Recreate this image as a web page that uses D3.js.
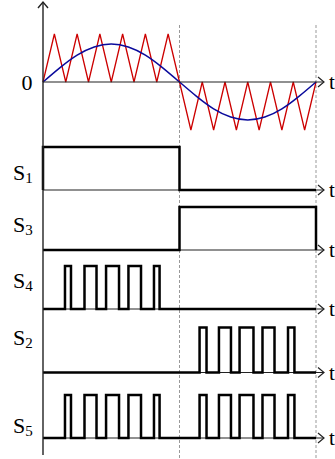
<!DOCTYPE html>
<html>
<head>
<meta charset="utf-8">
<script src="https://d3js.org/d3.v7.min.js"></script>
<style>
  body { margin: 0; background: #fff; }
  text { font-family: "Liberation Serif", "Times New Roman", serif; fill: #000; }
</style>
</head>
<body>
<script>
// modulating sine (fraction of carrier peak), sampled every 1/8 of a half cycle
var sineValues = [0, 0.30, 0.56, 0.73, 0.79, 0.73, 0.56, 0.30, 0,
                  -0.30, -0.56, -0.73, -0.79, -0.73, -0.56, -0.30, 0];
// carrier triangle vertices, every 1/12 of a half cycle
var carrierValues = [0, 1, 0, 1, 0, 1, 0, 1, 0, 1, 0, 1, 0,
                     -1, 0, -1, 0, -1, 0, -1, 0, -1, 0, -1, 0];

// switching states: [on, off] in half-cycle units (0..2)
var s1Pulses = [[0, 1]];
var s3Pulses = [[1, 2]];
var s4Pulses = [[0.161, 0.205], [0.304, 0.392], [0.462, 0.557], [0.626, 0.718], [0.813, 0.854]];
var s2Pulses = [[1.147, 1.198], [1.289, 1.377], [1.440, 1.542], [1.608, 1.696], [1.795, 1.842]];
var s5Pulses = s4Pulses.concat(s2Pulses);

var labels = ["1", "3", "4", "2", "5"];

var width = 335, height = 459;
var svg = d3.select("body").append("svg")
    .attr("width", width)
    .attr("height", height);

var x = d3.scaleLinear().domain([0, 2]).range([43, 316]);
var xEnd = 324;

// panels: low / high line and label baseline
var panels = [
    { id: "1", pulses: s1Pulses, low: 190, high: 147, labelY: 180 },
    { id: "3", pulses: s3Pulses, low: 250, high: 207, labelY: 232 },
    { id: "4", pulses: s4Pulses, low: 309, high: 266, labelY: 288 },
    { id: "2", pulses: s2Pulses, low: 372.5, high: 327.5, labelY: 345 },
    { id: "5", pulses: s5Pulses, low: 438, high: 395, labelY: 433 }
];

// dashed guides at the half cycle marks
svg.selectAll("line.guide")
    .data([1, 2])
    .enter().append("line")
    .attr("class", "guide")
    .attr("x1", function (d) { return x(d); })
    .attr("x2", function (d) { return x(d); })
    .attr("y1", 25)
    .attr("y2", height)
    .attr("stroke", "#999")
    .attr("stroke-width", 1)
    .attr("stroke-dasharray", "3,2");

// ---------- top panel: carrier and reference ----------
var yTop = d3.scaleLinear().domain([-1, 1]).range([130, 34]);
var zeroY = yTop(0);

var sineX = d3.scaleLinear().domain([0, sineValues.length - 1]).range(x.domain());
var carrierX = d3.scaleLinear().domain([0, carrierValues.length - 1]).range(x.domain());

svg.append("path")
    .datum(carrierValues)
    .attr("fill", "none")
    .attr("stroke", "#cc0000")
    .attr("stroke-width", 1.3)
    .attr("d", d3.line()
        .x(function (d, i) { return x(carrierX(i)); })
        .y(function (d) { return yTop(d); }));

svg.append("path")
    .datum(sineValues)
    .attr("fill", "none")
    .attr("stroke", "#0a0a9c")
    .attr("stroke-width", 1.5)
    .attr("d", d3.line()
        .curve(d3.curveNatural)
        .x(function (d, i) { return x(sineX(i)); })
        .y(function (d) { return yTop(d); }));

// axis helper: horizontal line with open arrow and "t"
function hAxis(y) {
    svg.append("line")
        .attr("x1", x(0)).attr("x2", xEnd)
        .attr("y1", y).attr("y2", y)
        .attr("stroke", "#222").attr("stroke-width", 1.2);
    svg.append("path")
        .attr("d", "M" + (xEnd - 6) + "," + (y - 5) + "L" + xEnd + "," + y + "L" + (xEnd - 6) + "," + (y + 5))
        .attr("fill", "none").attr("stroke", "#222").attr("stroke-width", 1.2);
    svg.append("text")
        .attr("x", 329).attr("y", y + 7)
        .attr("font-size", 21)
        .text("t");
}

hAxis(zeroY);

svg.append("text")
    .attr("x", 27).attr("y", zeroY + 8)
    .attr("text-anchor", "middle")
    .attr("font-size", 22)
    .text("0");

// ---------- switching panels ----------
function stepPoints(pulses) {
    var pts = [[0, 0]];
    pulses.forEach(function (p) {
        pts.push([p[0], 0], [p[0], 1], [p[1], 1], [p[1], 0]);
    });
    pts.push([2, 0]);
    return pts;
}

panels.forEach(function (p) {
    var y = d3.scaleLinear().domain([0, 1]).range([p.low, p.high]);
    hAxis(p.low);
    svg.append("path")
        .datum(stepPoints(p.pulses))
        .attr("fill", "none")
        .attr("stroke", "#000")
        .attr("stroke-width", 2.5)
        .attr("stroke-linejoin", "miter")
        .attr("d", d3.line()
            .x(function (d) { return x(d[0]); })
            .y(function (d) { return y(d[1]); }));

    var t = svg.append("text")
        .attr("x", 13).attr("y", p.labelY)
        .attr("font-size", 22);
    t.append("tspan").text("S");
    t.append("tspan")
        .attr("font-size", 15)
        .attr("dy", 3)
        .text(p.id);
});

// vertical axis with arrow on top
svg.append("line")
    .attr("x1", x(0)).attr("x2", x(0))
    .attr("y1", 455).attr("y2", 2)
    .attr("stroke", "#222").attr("stroke-width", 1.4);
svg.append("path")
    .attr("d", "M" + (x(0) - 5) + ",8L" + x(0) + ",2L" + (x(0) + 5) + ",8")
    .attr("fill", "none").attr("stroke", "#222").attr("stroke-width", 1.4);
</script>
</body>
</html>
